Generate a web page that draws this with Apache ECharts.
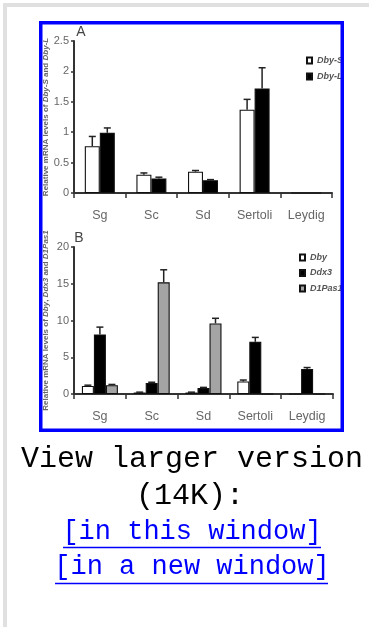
<!DOCTYPE html>
<html>
<head>
<meta charset="utf-8">
<script src="https://cdn.jsdelivr.net/npm/echarts@6/dist/echarts.min.js"></script>
<style>
  html, body { margin: 0; padding: 0; background: #fff; }
  #main { width: 369px; height: 627px; }
</style>
</head>
<body>
<div id="main"></div>
<script>
// cell types (x axis of both panels)
var categories = ['Sg', 'Sc', 'Sd', 'Sertoli', 'Leydig'];

// panel A
var dbyS = [0.77, 0.30, 0.35, 1.37, 0];
var dbySErr = [0.16, 0.03, 0.02, 0.17, 0];
var dbyL = [0.99, 0.24, 0.21, 1.72, 0];
var dbyLErr = [0.08, 0.02, 0.01, 0.34, 0];
var ticksA = [0, 0.5, 1, 1.5, 2, 2.5];

// panel B
var dby = [1.1, 0.2, 0.2, 1.7, 0];
var dbyErr = [0.1, 0.05, 0.05, 0.2, 0];
var ddx3 = [8.1, 1.5, 0.8, 7.1, 3.4];
var ddx3Err = [1.0, 0.1, 0.1, 0.6, 0.2];
var d1pas1 = [1.2, 15.2, 9.6, 0, 0];
var d1pas1Err = [0.1, 1.7, 0.7, 0, 0];
var ticksB = [0, 5, 10, 15, 20];

var axisFont = 'Liberation Sans Narrow, Liberation Sans, Arial';

// error bar drawn on top of the k-th bar of n in a group
function errSeries(idx, vals, errs, k, n, bw) {
  var offset = (k - (n - 1) / 2) * bw;
  return {
    type: 'custom',
    name: 'err' + idx + k,
    xAxisIndex: idx,
    yAxisIndex: idx,
    z: 4,
    encode: { x: 0, y: 1 },
    data: vals.map(function (v, i) { return [i, v, errs[i]]; }),
    renderItem: function (params, api) {
      var e = api.value(2);
      if (!e) return null;
      var v = api.value(1);
      var base = api.coord([api.value(0), v]);
      var top = api.coord([api.value(0), v + e]);
      var x = base[0] + offset;
      var st = { stroke: '#222', lineWidth: 1.5 };
      return {
        type: 'group',
        children: [
          { type: 'line', shape: { x1: x, y1: base[1], x2: x, y2: top[1] }, style: st },
          { type: 'line', shape: { x1: x - 3.5, y1: top[1], x2: x + 3.5, y2: top[1] }, style: st }
        ]
      };
    }
  };
}

function bar(idx, name, vals, fill, bw) {
  return {
    type: 'bar',
    name: name,
    xAxisIndex: idx,
    yAxisIndex: idx,
    barWidth: bw,
    barGap: '0%',
    itemStyle: { color: fill, borderColor: '#111', borderWidth: 1.1 },
    data: vals
  };
}

function xAx(idx) {
  return {
    type: 'category',
    gridIndex: idx,
    data: categories,
    axisLine: { lineStyle: { color: '#333', width: 2 } },
    axisTick: { show: true, length: 5, lineStyle: { color: '#333', width: 1.5 } },
    axisLabel: { margin: 16, color: '#666', fontSize: 12.5, fontFamily: axisFont }
  };
}

function yAx(idx, ticks, title) {
  return {
    type: 'value',
    gridIndex: idx,
    min: ticks[0],
    max: ticks[ticks.length - 1],
    interval: ticks[1] - ticks[0],
    splitLine: { show: false },
    axisLine: { show: true, lineStyle: { color: '#333', width: 2 } },
    axisTick: { show: true, length: 3, lineStyle: { color: '#333', width: 1.5 } },
    axisLabel: { margin: 5, color: '#666', fontSize: 11, fontFamily: axisFont },
    name: title,
    nameLocation: 'middle',
    nameRotate: 90,
    nameGap: 24,
    nameMoveOverlap: false,
    nameTextStyle: {
      rich: {
        n: { fontSize: 8, color: '#666', fontWeight: 'bold', fontFamily: 'Liberation Sans' },
        i: { fontSize: 8, color: '#666', fontWeight: 'bold', fontStyle: 'italic', fontFamily: 'Liberation Sans' }
      }
    }
  };
}

var legendStyle = {
  orient: 'vertical',
  icon: 'rect',
  itemWidth: 5,
  itemHeight: 6,
  textStyle: { fontSize: 9, fontStyle: 'italic', fontWeight: 'bold', color: '#555', fontFamily: 'Liberation Sans' }
};

var chart = echarts.init(document.getElementById('main'));

var option = {
  animation: false,
  backgroundColor: '#fff',
  grid: [
    { left: 74, top: 41, width: 258, height: 152 },
    { left: 74, top: 247, width: 259, height: 147 }
  ],
  legend: [
    Object.assign({ data: ['Dby-S', 'Dby-L'], left: 301, top: 51, itemGap: 7 }, legendStyle),
    Object.assign({ data: ['Dby', 'Ddx3', 'D1Pas1'], left: 294, top: 248, itemGap: 6.5 }, legendStyle)
  ],
  xAxis: [xAx(0), xAx(1)],
  yAxis: [
    yAx(0, ticksA, '{n|Relative mRNA levels of }{i|Dby-S}{n| and }{i|Dby-L}'),
    yAx(1, ticksB, '{n|Relative mRNA levels of }{i|Dby}{n|, }{i|Ddx3}{n| and }{i|D1Pas1}')
  ],
  series: [
    bar(0, 'Dby-S', dbyS, '#fff', 15),
    bar(0, 'Dby-L', dbyL, '#000', 15),
    bar(1, 'Dby', dby, '#fff', 12),
    bar(1, 'Ddx3', ddx3, '#000', 12),
    bar(1, 'D1Pas1', d1pas1, '#a4a4a4', 12),
    errSeries(0, dbyS, dbySErr, 0, 2, 15),
    errSeries(0, dbyL, dbyLErr, 1, 2, 15),
    errSeries(1, dby, dbyErr, 0, 3, 12),
    errSeries(1, ddx3, ddx3Err, 1, 3, 12),
    errSeries(1, d1pas1, d1pas1Err, 2, 3, 12)
  ],
  graphic: [
    // page chrome
    { type: 'rect', shape: { x: 3, y: 3, width: 366, height: 4 }, style: { fill: '#e0e0e0' }, z: 1 },
    { type: 'rect', shape: { x: 3, y: 3, width: 4, height: 624 }, style: { fill: '#e0e0e0' }, z: 1 },
    { type: 'rect', shape: { x: 344, y: 40, width: 25, height: 260 }, style: { fill: '#fff' }, z: 90 },
    { type: 'rect', shape: { x: 40.75, y: 22.75, width: 301.5, height: 407.5 },
      style: { fill: null, stroke: '#0000ff', lineWidth: 3.5 }, z: 100 },
    // panel letters
    { type: 'text', x: 81, y: 32, z: 10,
      style: { text: 'A', fontSize: 14, fontFamily: axisFont, fill: '#444', align: 'center', verticalAlign: 'middle' } },
    { type: 'text', x: 79, y: 238, z: 10,
      style: { text: 'B', fontSize: 14, fontFamily: axisFont, fill: '#444', align: 'center', verticalAlign: 'middle' } },
    // caption and links
    { type: 'text', x: 192, y: 459, z: 10,
      style: { text: 'View larger version', fontSize: 30, fontFamily: 'Liberation Mono', fill: '#000', align: 'center', verticalAlign: 'middle' } },
    { type: 'text', x: 190, y: 496, z: 10,
      style: { text: '(14K):', fontSize: 30, fontFamily: 'Liberation Mono', fill: '#000', align: 'center', verticalAlign: 'middle' } },
    { type: 'text', x: 192, y: 532, z: 10,
      style: { text: '[in this window]', fontSize: 27, fontFamily: 'Liberation Mono', fill: '#0000ff', align: 'center', verticalAlign: 'middle' } },
    { type: 'line', shape: { x1: 63, y1: 547.5, x2: 321, y2: 547.5 }, style: { stroke: '#0000ff', lineWidth: 1.5 }, z: 10 },
    { type: 'text', x: 192, y: 567, z: 10,
      style: { text: '[in a new window]', fontSize: 27, fontFamily: 'Liberation Mono', fill: '#0000ff', align: 'center', verticalAlign: 'middle' } },
    { type: 'line', shape: { x1: 55, y1: 583.5, x2: 328, y2: 583.5 }, style: { stroke: '#0000ff', lineWidth: 1.5 }, z: 10 }
  ]
};

chart.setOption(option, true);
</script>
</body>
</html>
